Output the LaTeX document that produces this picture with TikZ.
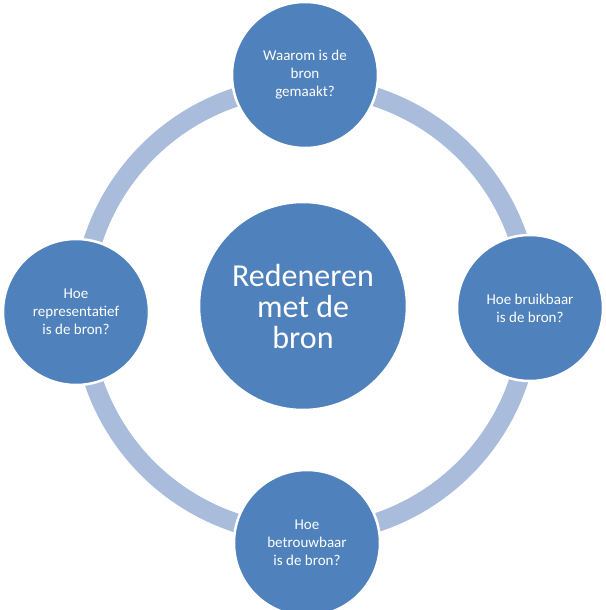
\documentclass[tikz,border=0pt]{standalone}
\usepackage{fontspec}
\setmainfont{Carlito}
\definecolor{bub}{HTML}{4F81BD}
\definecolor{ringc}{HTML}{A9BCDB}
\tikzset{
  sat/.style={circle, fill=bub, draw=white, line width=2.5pt, minimum size=146pt, inner sep=0pt,
    align=center, text=white, font=\fontsize{15}{18}\selectfont},
  hub/.style={circle, fill=bub, draw=white, line width=2.5pt, minimum size=208pt, inner sep=0pt,
    align=center, text=white, font=\fontsize{32}{31}\selectfont},
  ringline/.style={draw=ringc, line width=19pt}
}
\begin{document}
\begin{tikzpicture}[x=1pt,y=-1pt]
\useasboundingbox (0,0) rectangle (605,610);
\coordinate (rc) at (306,310);
\draw[ringline] (rc) circle (224);
\node[hub] (c) at (303,306) {Redeneren\\met de\\bron};
\node[sat] (t) at (305,75) {Waarom is de\\bron\\gemaakt?};
\node[sat] (r) at (530,308) {Hoe bruikbaar\\is de bron?};
\node[sat] (b) at (307,543) {Hoe\\betrouwbaar\\is de bron?};
\node[sat] (l) at (76,312) {Hoe\\representatief\\is de bron?};
\end{tikzpicture}
\end{document}
